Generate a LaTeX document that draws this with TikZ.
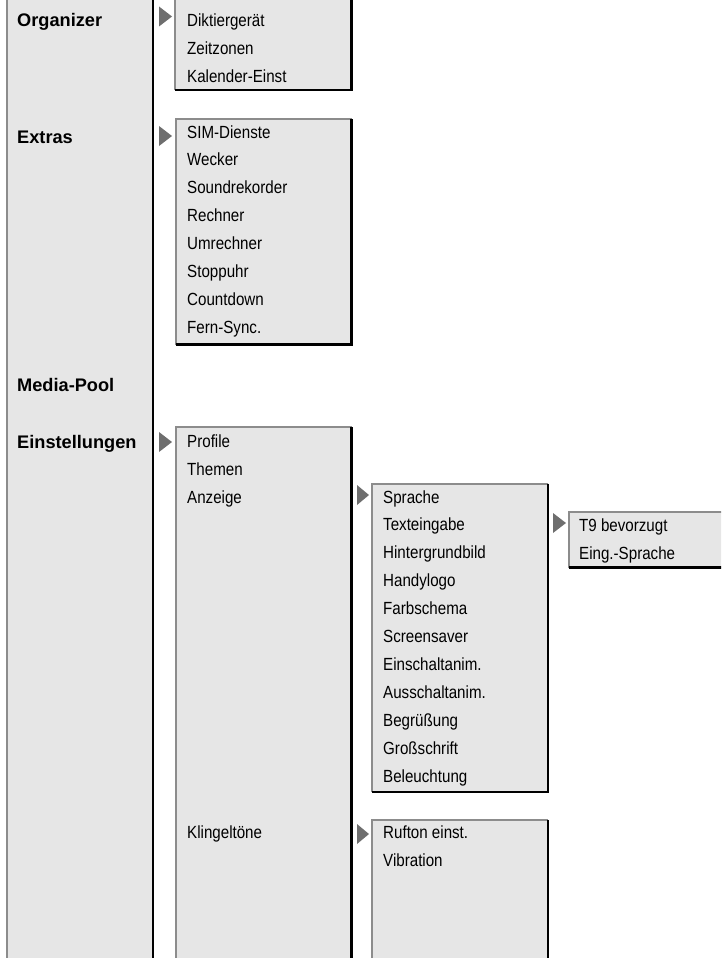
\documentclass[tikz,border=0pt]{standalone}
\usepackage{fontspec}
\setmainfont{Liberation Sans}
\newfontfamily\itemfont[FakeStretch=0.86]{Liberation Sans}
\definecolor{boxfill}{HTML}{E6E6E6}
\definecolor{edgegray}{HTML}{8C8C8C}
\definecolor{trigray}{HTML}{6E6E6E}
\tikzset{
  itm/.style={anchor=base west, inner sep=0pt, font=\itemfont\fontsize{17.6}{17.6}\selectfont},
  lbl/.style={anchor=base west, inner sep=0pt, font=\bfseries\fontsize{18.2}{18.2}\selectfont},
  lightedge/.style={draw=edgegray, line width=2pt},
  darkedge/.style={draw=black, line width=2.6pt},
  marker/.style={fill=trigray, draw=none},
}
\newcommand{\menupanel}[4]{%
  \fill[boxfill] (#1,#2) rectangle (#3,#4);
  \draw[lightedge] (#1,#4) -- (#1,#2) -- (#3,#2);
  \draw[darkedge] (#3,#2) -- (#3,#4) -- (#1,#4);
}
\newcommand{\tri}[3]{% x1 x2 ycenter
  \fill[marker] (#1,#3-10) -- (#2,#3) -- (#1,#3+10) -- cycle;
}
\begin{document}
\begin{tikzpicture}[x=1pt,y=-1pt]
\useasboundingbox (0,0) rectangle (721,958);
\clip (0,0) rectangle (721,958);
% left column
\fill[boxfill] (7,-10) rectangle (153,970);
\draw[lightedge] (7,-10) -- (7,970);
\draw[darkedge] (153,-10) -- (153,970);
\node[lbl] (org) at (17,27) {Organizer};
\node[lbl] (ext) at (17,143) {Extras};
\node[lbl] (media) at (17,391) {Media-Pool};
\node[lbl] (einst) at (17,448) {Einstellungen};
% Organizer submenu
\menupanel{175}{-10}{351.5}{90}
\tri{159}{172}{16.5}
\node[itm] (o1) at (187,26.7) {Diktiergerät};
\node[itm] (o2) at (187,54.3) {Zeitzonen};
\node[itm] (o3) at (187,82) {Kalender-Einst};
% Extras submenu
\menupanel{176}{119}{351.5}{344.5}
\tri{159}{172}{136}
\foreach \t [count=\i from 0] in {SIM-Dienste,Wecker,Soundrekorder,Rechner,Umrechner,Stoppuhr,Countdown,Fern-Sync.}
  \node[itm] (e\i) at (187,138+27.9*\i) {\t};
% Einstellungen submenu
\menupanel{176}{427}{351.5}{975}
\tri{159}{172}{442}
\node[itm] (s1) at (187,447) {Profile};
\node[itm] (s2) at (187,475) {Themen};
\node[itm] (s3) at (187,503) {Anzeige};
\node[itm] (s4) at (187,838) {Klingeltöne};
% Anzeige submenu
\menupanel{372}{483.5}{548}{792}
\tri{357}{369}{495}
\foreach \t [count=\i from 0] in {Sprache,Texteingabe,Hintergrundbild,Handylogo,Farbschema,Screensaver,Einschaltanim.,Ausschaltanim.,Begrüßung,Großschrift,Beleuchtung}
  \node[itm] (a\i) at (383,503+27.9*\i) {\t};
% Texteingabe submenu
\menupanel{569}{512}{745}{567.5}
\tri{553}{566}{523}
\node[itm] (t1) at (579,531) {T9 bevorzugt};
\node[itm] (t2) at (579,559) {Eing.-Sprache};
% Klingeltoene submenu
\menupanel{372}{820}{548}{975}
\tri{357}{369}{834}
\node[itm] (k1) at (383,838.5) {Rufton einst.};
\node[itm] (k2) at (383,866.5) {Vibration};
\end{tikzpicture}
\end{document}
